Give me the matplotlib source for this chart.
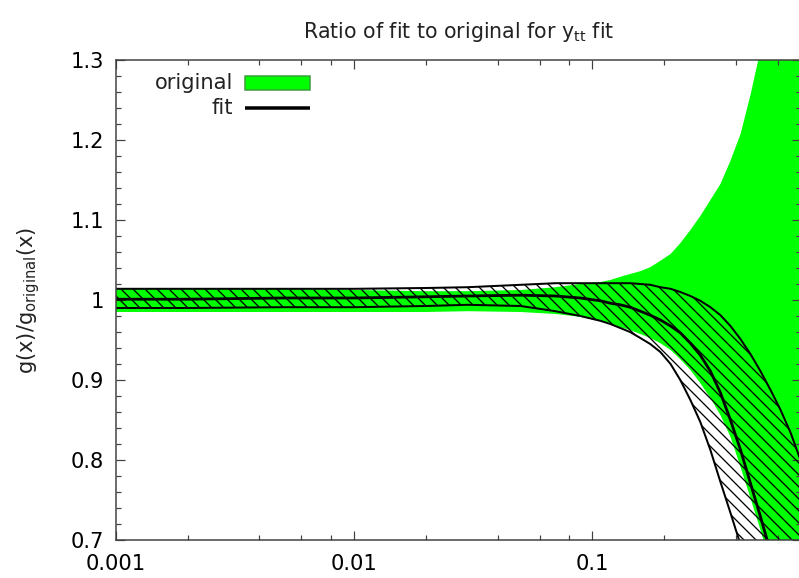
import matplotlib.pyplot as plt
import numpy as np
from matplotlib.ticker import LogLocator, MultipleLocator, FuncFormatter, NullFormatter
from matplotlib.patches import Rectangle

# sample points along x (momentum fraction)
x = [0.001, 0.002, 0.005, 0.01, 0.02, 0.03, 0.05, 0.07, 0.089, 0.108,
     0.119, 0.131, 0.144, 0.159, 0.175, 0.193, 0.213, 0.234, 0.258, 0.284,
     0.313, 0.345, 0.380, 0.419, 0.461, 0.508, 0.560, 0.617, 0.680, 0.748]

# original uncertainty band (ratio to central original)
orig_hi = [1.015, 1.014, 1.014, 1.0125, 1.011, 1.011, 1.0125, 1.016, 1.020, 1.0225,
           1.025, 1.029, 1.0325, 1.036, 1.041, 1.049, 1.0575, 1.071, 1.0875, 1.105,
           1.125, 1.145, 1.174, 1.2075, 1.256, 1.3125, 1.375, 1.444, 1.519, 1.600]
orig_lo = [0.985, 0.985, 0.985, 0.985, 0.985, 0.986, 0.985, 0.9825, 0.979, 0.974,
           0.970, 0.966, 0.9625, 0.9575, 0.9525, 0.946, 0.9375, 0.926, 0.9125, 0.896,
           0.8775, 0.856, 0.829, 0.791, 0.7525, 0.7125, 0.669, 0.625, 0.581, 0.5375]

# fit: central value and error band
fit_mid = [1.001, 1.001, 1.0025, 1.0025, 1.004, 1.005, 1.006, 1.005, 1.0025, 0.999,
           0.996, 0.994, 0.991, 0.986, 0.981, 0.975, 0.9675, 0.959, 0.946, 0.931,
           0.911, 0.884, 0.850, 0.8125, 0.771, 0.729, 0.685, 0.6375, 0.5875, 0.5375]
fit_hi = [1.014, 1.014, 1.014, 1.014, 1.015, 1.016, 1.019, 1.021, 1.021, 1.021,
          1.021, 1.021, 1.021, 1.020, 1.019, 1.016, 1.014, 1.010, 1.005, 0.999,
          0.991, 0.981, 0.9675, 0.951, 0.9325, 0.911, 0.8875, 0.8625, 0.834, 0.800]
fit_lo = [0.990, 0.990, 0.991, 0.991, 0.9925, 0.994, 0.9925, 0.986, 0.980, 0.974,
          0.970, 0.965, 0.960, 0.9525, 0.945, 0.935, 0.920, 0.900, 0.875, 0.8475,
          0.8125, 0.7725, 0.734, 0.694, 0.650, 0.606, 0.5625, 0.5125, 0.4625, 0.4125]

plt.rcParams['font.family'] = 'DejaVu Sans'
plt.rcParams['hatch.linewidth'] = 1.3
plt.rcParams['mathtext.default'] = 'regular'

W, H = 799, 578
fig = plt.figure(figsize=(W / 72, H / 72), dpi=72)
ax = fig.add_axes([116 / W, 38 / H, 684.5 / W, 480 / H])

ax.fill_between(x, orig_lo, orig_hi, facecolor='#00ff00', lw=0, zorder=1)
ax.fill_between(x, fit_lo, fit_hi, facecolor='none', edgecolor='black',
                hatch='\\\\', lw=0, zorder=2)
ax.plot(x, fit_hi, color='black', lw=2, zorder=3)
ax.plot(x, fit_lo, color='black', lw=2, zorder=3)
ax.plot(x, fit_mid, color='black', lw=2.8, zorder=3)

ax.set_xscale('log')
ax.set_xlim(0.001, 0.748)
ax.set_ylim(0.7, 1.3)

axis_col = '#404040'
for s in ax.spines.values():
    s.set_color(axis_col)
    s.set_linewidth(1.5)
    s.set_zorder(6)

ax.xaxis.set_major_locator(LogLocator(base=10, numticks=10))
ax.xaxis.set_minor_locator(LogLocator(base=10, subs=[2, 4, 6, 8], numticks=10))
ax.xaxis.set_minor_formatter(NullFormatter())
ax.yaxis.set_major_locator(MultipleLocator(0.1))
ax.yaxis.set_minor_locator(MultipleLocator(0.02))
fmt = FuncFormatter(lambda v, p: '%g' % round(v, 4))
ax.xaxis.set_major_formatter(fmt)
ax.yaxis.set_major_formatter(fmt)
ax.tick_params(which='both', direction='in', top=True, right=True,
               color=axis_col, width=1.2, labelsize=21)
ax.tick_params(which='major', length=9)
ax.tick_params(which='minor', length=5)
ax.tick_params(axis='y', which='major', pad=12)
ax.tick_params(axis='x', which='major', pad=14)

ax.set_title('Ratio of fit to original for y$_{tt}$ fit', fontsize=20.5, pad=22,
             color='#222222')
ax.set_ylabel('g(x)/g$_{original}$(x)', fontsize=21, labelpad=28, color='#222222')

# key in the upper left corner
ax.text(0.171, 0.952, 'original', transform=ax.transAxes, ha='right', va='center',
        fontsize=21, color='#222222', zorder=7)
ax.add_patch(Rectangle((0.1886, 0.9375), 0.095, 0.029, transform=ax.transAxes,
                       facecolor='#00ff00', edgecolor='#3c9c3c', lw=1.5, zorder=7))
ax.text(0.171, 0.9, 'fit', transform=ax.transAxes, ha='right', va='center',
        fontsize=21, color='#222222', zorder=7)
ax.plot([0.1886, 0.2836], [0.9, 0.9], transform=ax.transAxes, color='black',
        lw=3.5, solid_capstyle='butt', zorder=7)

fig.savefig('out.png', dpi=72)
